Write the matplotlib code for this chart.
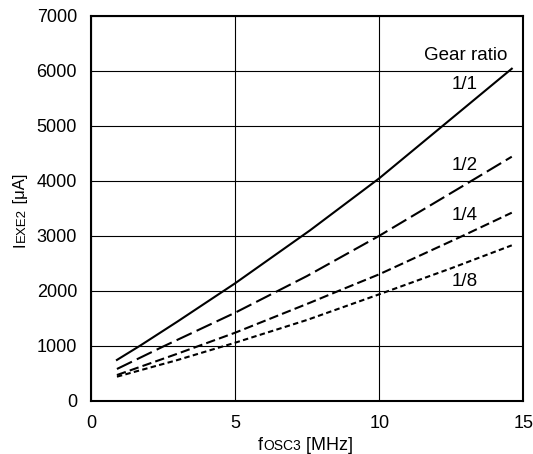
import matplotlib
matplotlib.use("Agg")
import matplotlib.pyplot as plt

plt.rcParams['font.family'] = ['Liberation Sans', 'DejaVu Sans']

# fosc3 [MHz] vs IEXE2 [uA]
f_1_1 = [0.9, 1.7, 3.0, 5.0, 7.6, 10.0, 12.2, 14.6]
i_1_1 = [742, 1000, 1440, 2136, 3100, 4046, 5000, 6041]
f_1_2 = [0.9, 2.5, 5.0, 7.5, 10.0, 13.2, 14.6]
i_1_2 = [577, 985, 1601, 2270, 3000, 4000, 4440]
f_1_4 = [0.9, 3.0, 5.0, 7.6, 8.6, 10.0, 12.9, 14.6]
i_1_4 = [467, 855, 1237, 1783, 2000, 2300, 3000, 3421]
f_1_8 = [0.9, 3.0, 5.0, 7.5, 10.0, 12.5, 14.6]
i_1_8 = [437, 740, 1055, 1470, 1936, 2410, 2827]

ratio_labels = ["1/1", "1/2", "1/4", "1/8"]
label_pos = [(12.95, 5757), (12.95, 4283), (12.95, 3361), (12.95, 2166)]

W, H = 533, 454
fig = plt.figure(figsize=(W / 100, H / 100), dpi=100)
ax = fig.add_axes([91 / W, 1 - 400.7 / H, (523.3 - 91) / W, (400.7 - 16) / H])

ax.plot(f_1_1, i_1_1, color='black', lw=1.5, ls='-')
ax.plot(f_1_2, i_1_2, color='black', lw=1.5, ls=(0, (8, 2.6)))
ax.plot(f_1_4, i_1_4, color='black', lw=1.5, ls=(0, (4.5, 2)))
ax.plot(f_1_8, i_1_8, color='black', lw=1.5, ls=(0, (2.6, 1.6)))

for lab, (x, y) in zip(ratio_labels, label_pos):
    ax.text(x, y, lab, fontsize=13.5, ha='center', va='center')
ax.text(13.0, 6290, "Gear ratio", fontsize=13.5, ha='center', va='center')

ax.set_xlim(0, 15)
ax.set_ylim(0, 7000)
ax.set_xticks([0, 5, 10, 15])
ax.set_yticks(range(0, 7001, 1000))
ax.grid(True, color='black', lw=0.8)
ax.tick_params(length=0, labelsize=13, pad=10)
for s in ax.spines.values():
    s.set_linewidth(1.5)

fig.canvas.draw()
r = fig.canvas.get_renderer()


def compose(pieces, x, y, vertical):
    # pieces: (text, size); x,y = baseline start in pixels from bottom-left
    pos = y if vertical else x
    for txt, size in pieces:
        if vertical:
            t = fig.text(x / W, pos / H, txt, fontsize=size, rotation=90,
                         rotation_mode='anchor', ha='left', va='baseline')
        else:
            t = fig.text(pos / W, y / H, txt, fontsize=size, ha='left',
                         va='baseline')
        bb = t.get_window_extent(r)
        pos += bb.height if vertical else bb.width


compose([("I", 12), ("EXE2", 9.5), (" [μA]", 12)], 25, H - 247, True)
compose([("f", 13), ("OSC3", 10), (" [MHz]", 13)], 258, H - 450, False)

fig.savefig("out.png", dpi=100)
